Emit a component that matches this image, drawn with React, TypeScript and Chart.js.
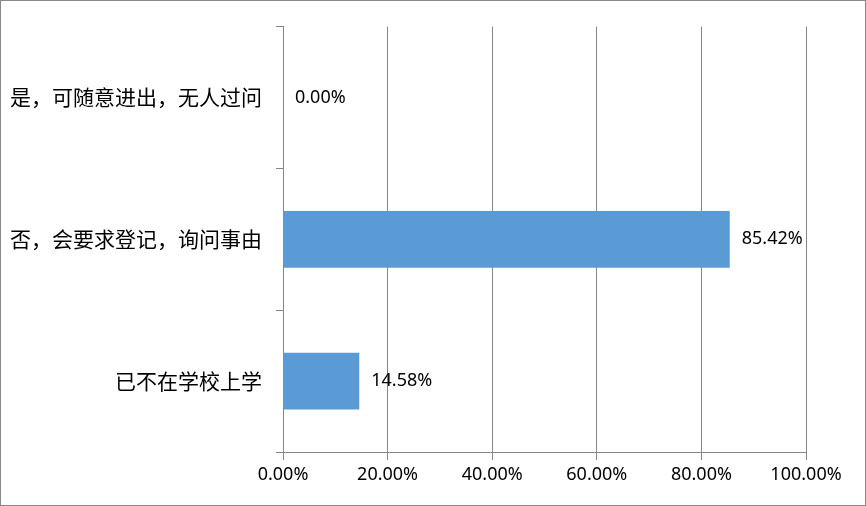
import React, { useEffect, useRef } from "react";
import { Chart, registerables } from "chart.js";

Chart.register(...registerables);

const categories = ["是，可随意进出，无人过问", "否，会要求登记，询问事由", "已不在学校上学"];
const values = [0.0, 85.42, 14.58];
const xTicks = [0, 20, 40, 60, 80, 100];

const GRID = "#868686";
const BAR = "#5B9BD5";
const NUM_FONT = '"Noto Sans", sans-serif';
const CJK_FONT = '"Noto Sans CJK SC", sans-serif';

const dataLabelPlugin = {
  id: "dataLabels",
  afterDatasetsDraw(chart: any) {
    const ctx = chart.ctx;
    const meta = chart.getDatasetMeta(0);
    ctx.save();
    ctx.font = `18px ${NUM_FONT}`;
    ctx.fillStyle = "#000";
    ctx.textAlign = "left";
    ctx.textBaseline = "middle";
    meta.data.forEach((el: any, i: number) => {
      ctx.fillText(values[i].toFixed(2) + "%", el.x + 12, el.y);
    });
    ctx.restore();
  },
};

const borderPlugin = {
  id: "outerBorder",
  afterDraw(chart: any) {
    const ctx = chart.ctx;
    ctx.save();
    ctx.strokeStyle = "#898989";
    ctx.lineWidth = 1;
    ctx.strokeRect(0.5, 0.5, chart.width - 1, chart.height - 1);
    ctx.restore();
  },
};

export default function App() {
  const ref = useRef<HTMLCanvasElement>(null);

  useEffect(() => {
    document.body.style.margin = "0";
    const canvas = ref.current!;
    const chart = new Chart(canvas, {
      type: "bar",
      data: {
        labels: categories,
        datasets: [
          {
            data: values,
            backgroundColor: BAR,
            barPercentage: 0.4,
            categoryPercentage: 1,
          },
        ],
      },
      options: {
        indexAxis: "y",
        animation: false,
        responsive: false,
        devicePixelRatio: 1,
        layout: { padding: { top: 22, right: 60, bottom: 0, left: 0 } },
        plugins: {
          legend: { display: false },
          tooltip: { enabled: false },
        },
        scales: {
          x: {
            min: 0,
            max: 100,
            afterBuildTicks: (scale: any) => {
              scale.ticks = xTicks.map((v) => ({ value: v }));
            },
            afterFit: (scale: any) => {
              scale.height = 54;
            },
            ticks: {
              color: "#000",
              font: { family: NUM_FONT, size: 18 },
              padding: 4,
              maxRotation: 0,
              callback: (v: any) => Number(v).toFixed(2) + "%",
            },
            grid: {
              color: GRID,
              lineWidth: 1,
              drawTicks: true,
              tickLength: 8,
            },
            border: { display: true, color: GRID, width: 1 },
          },
          y: {
            afterFit: (scale: any) => {
              scale.width = 283;
            },
            ticks: {
              color: "#000",
              font: { family: CJK_FONT, size: 21 },
              padding: 14,
            },
            grid: {
              offset: true,
              drawOnChartArea: false,
              drawTicks: true,
              tickLength: 7,
              color: GRID,
            },
            border: { display: true, color: GRID, width: 1 },
          },
        },
      },
      plugins: [dataLabelPlugin, borderPlugin],
    });
    return () => chart.destroy();
  }, []);

  return <canvas ref={ref} width={866} height={506} style={{ display: "block" }} />;
}
